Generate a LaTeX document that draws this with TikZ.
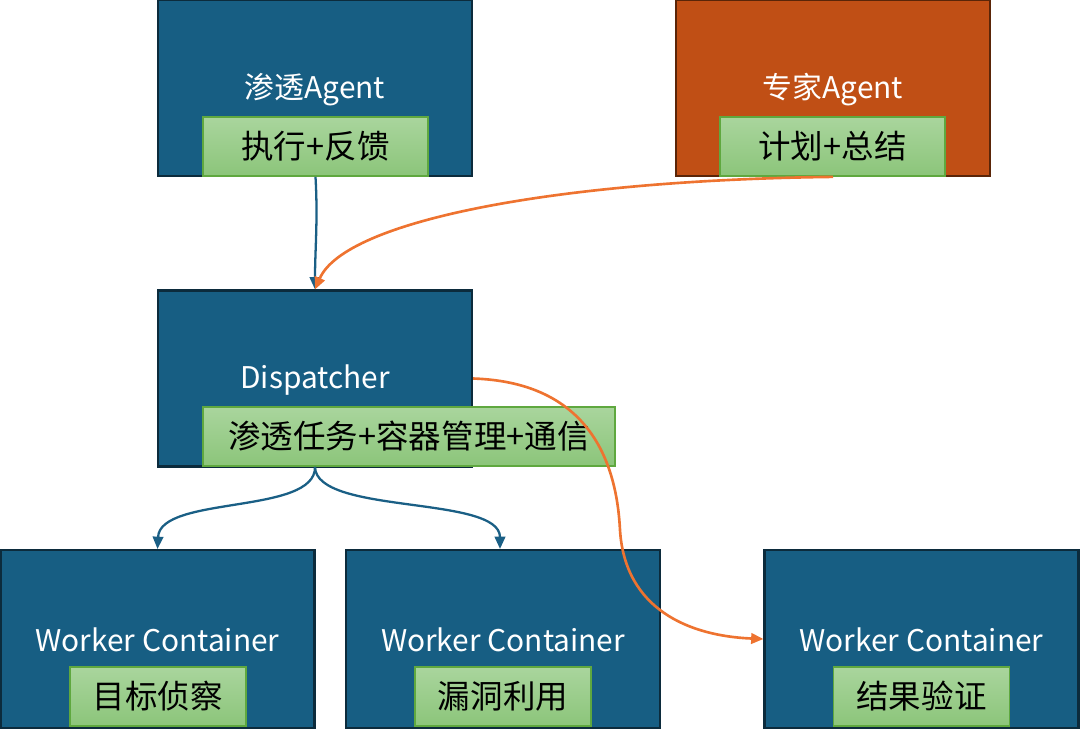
\documentclass[tikz,border=0pt]{standalone}
\usepackage{fontspec}
\setmainfont{Noto Sans CJK SC}
\usetikzlibrary{arrows.meta}
\definecolor{boxblue}{HTML}{175E83}
\definecolor{boxedge}{HTML}{0C2B3C}
\definecolor{boxorange}{HTML}{C04F15}
\definecolor{edgeorange}{HTML}{5A2508}
\definecolor{tagtop}{HTML}{A9D59D}
\definecolor{tagbot}{HTML}{8CC57A}
\definecolor{tagedge}{HTML}{5FA83F}
\definecolor{linkblue}{HTML}{1A5F85}
\definecolor{linkorange}{HTML}{EE7330}
\begin{document}
\begin{tikzpicture}[x=0.02cm,y=-0.02cm,
  bigbox/.style={draw=boxedge,fill=boxblue,line width=1.2pt,minimum width=314*0.02cm,minimum height=176*0.02cm,inner sep=0pt},
  orangebox/.style={bigbox,draw=edgeorange,fill=boxorange},
  boxlabel/.style={text=white,font=\fontsize{17}{19}\selectfont,inner sep=0pt},
  tag/.style={draw=tagedge,line width=1pt,top color=tagtop,bottom color=tagbot,minimum height=59*0.02cm,inner sep=0pt,text=black,font=\fontsize{18.5}{20}\selectfont},
  bluelink/.style={draw=linkblue,line width=1.3pt,-{Triangle[length=7pt,width=6pt]}},
  orangelink/.style={draw=linkorange,line width=1.5pt,-{Triangle[length=7pt,width=6pt]}}]
\useasboundingbox (0,0) rectangle (1080,735);
% top row
\node[bigbox] (pen) at (315,88) {};
\node[boxlabel] (penl) at (315,90) {渗透Agent};
\node[tag,minimum width=225*0.02cm] (pent) at (315.5,146.5) {执行+反馈};
\node[orangebox] (exp) at (833,88) {};
\node[boxlabel] (expl) at (833,90) {专家Agent};
\node[tag,minimum width=225*0.02cm] (expt) at (832.5,146.5) {计划+总结};
% dispatcher
\node[bigbox] (dis) at (315,378.5) {};
\node[boxlabel] (disl) at (315,380) {Dispatcher};
\node[tag,minimum width=412*0.02cm] (dist) at (409,436.5) {渗透任务+容器管理+通信};
% workers
\node[bigbox,minimum height=178*0.02cm] (w1) at (157.5,639) {};
\node[boxlabel] (w1l) at (157.5,640) {Worker Container};
\node[tag,minimum width=176*0.02cm] (w1t) at (158,696.5) {目标侦察};
\node[bigbox,minimum height=178*0.02cm] (w2) at (503,639) {};
\node[boxlabel] (w2l) at (503,640) {Worker Container};
\node[tag,minimum width=176*0.02cm] (w2t) at (503,696.5) {漏洞利用};
\node[bigbox,minimum height=178*0.02cm] (w3) at (921.5,639) {};
\node[boxlabel] (w3l) at (921.5,640) {Worker Container};
\node[tag,minimum width=176*0.02cm] (w3t) at (921.5,696.5) {结果验证};
% connectors
\draw[bluelink] (pent.south) .. controls (318,220) and (315,250) .. (dis.north);
\draw[orangelink] ([xshift=0.5*0.02cm]expt.south) .. controls (560,180) and (345,220) .. (dis.north);
\draw[bluelink] (dist.south -| dis.north) .. controls (316,515) and (160,495) .. (w1.north);
\draw[bluelink] (dist.south -| dis.north) .. controls (316,515) and (500,495) .. (w2.north -| 500,0);
\draw[orangelink] (dis.east) .. controls (580,382) and (616,450) .. (620,530) .. controls (625,610) and (690,636) .. (w3.west);
\end{tikzpicture}
\end{document}
